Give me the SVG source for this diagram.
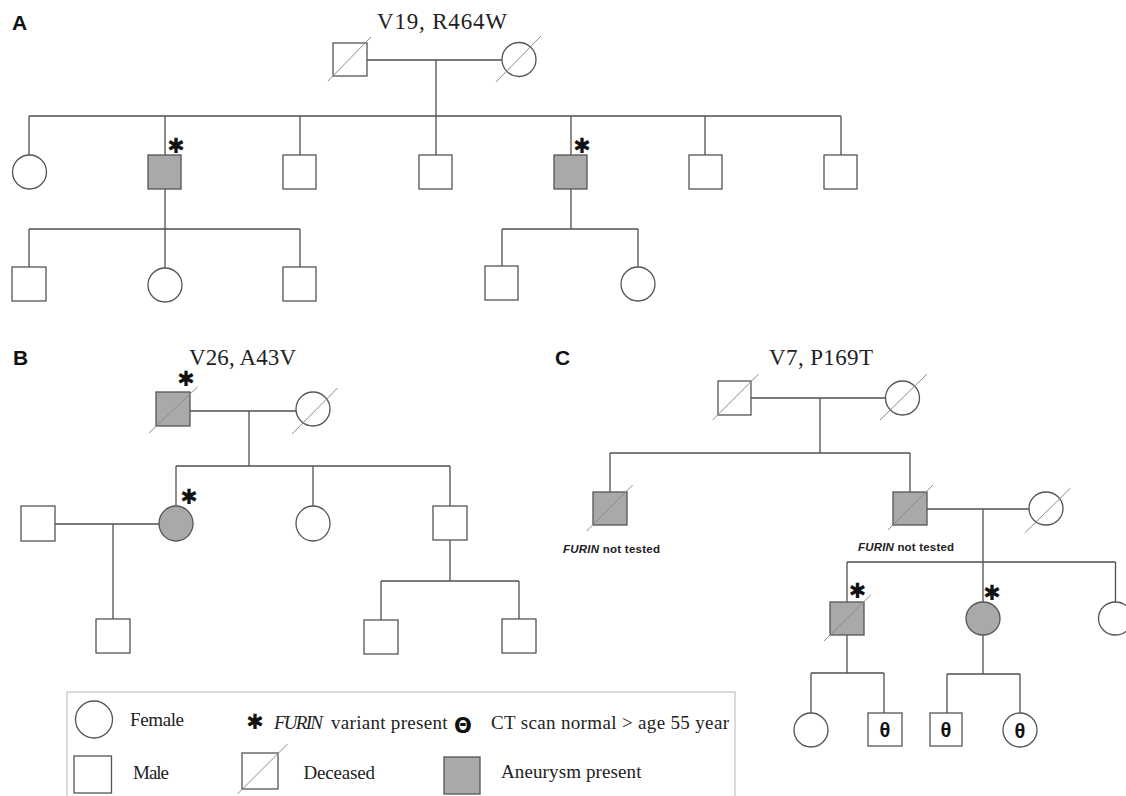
<svg xmlns="http://www.w3.org/2000/svg" width="1126" height="796" viewBox="0 0 1126 796">
<style>
.ln{stroke:#505050;stroke-width:1.3;fill:none}
.nd{fill:#fff;stroke:#555;stroke-width:1.3}
.aff{fill:#a9a9a9}
.dec{stroke:#8c8c8c;stroke-width:1}
.ser{font-family:"Liberation Serif",serif;fill:#222}
.lab{font-family:"Liberation Sans",Arial,sans-serif;font-weight:bold;font-size:21px;fill:#111}
.ast{font-family:"DejaVu Sans",sans-serif;font-weight:bold;font-size:21px;fill:#111;text-anchor:middle;dominant-baseline:central}
.th{font-family:"Liberation Sans",Arial,sans-serif;font-weight:bold;font-size:20px;fill:#111;text-anchor:middle}
.nt{font-family:"Liberation Sans",Arial,sans-serif;font-weight:bold;font-size:11.5px;fill:#222}
</style>
<rect width="1126" height="796" fill="#fff"/>
<text class="lab" x="12" y="30">A</text>
<text class="lab" x="13" y="365">B</text>
<text class="lab" x="555" y="365">C</text>
<text class="ser" x="377" y="29" font-size="23" textLength="130">V19, R464W</text>
<text class="ser" x="189" y="365" font-size="23" textLength="107">V26, A43V</text>
<text class="ser" x="769" y="365" font-size="23" textLength="104">V7, P169T</text>
<g id="connectors">
<path class="ln" d="M367,60H502M436,60V116M29,116H841M29,116V155M165,116V155M300,116V155M436,116V155M571,116V155M705,116V155M841,116V155"/>
<path class="ln" d="M165,189V229M29,229H300M29,229V267M165,229V268M300,229V267M571,189V229M502,229H638M502,229V266M638,229V267"/>
<path class="ln" d="M190,411H296M249,411V466M176,466H450M176,466V506M313,466V506M450,466V506M55,524H159M113,524V619M450,540V581M381,581H519M381,581V620M519,581V619"/>
<path class="ln" d="M751,398H886M820,398V453M610,453H910M610,453V492M910,453V492M927,509H1029M983,509V602M847,562H1115.5M847,562V602M1115.5,562V602"/>
<path class="ln" d="M847,635V673M811,673H884M811,673V713M884,673V713M983,635V674M947,674H1020M947,674V713M1020,674V713"/>
</g>
<g id="A-gf"><rect class="nd" x="333" y="43" width="34" height="33"/><line class="dec" x1="328" y1="81" x2="371" y2="37"/></g>
<g id="A-gm"><ellipse class="nd" cx="519" cy="59.5" rx="17" ry="17"/><line class="dec" x1="496" y1="82" x2="541" y2="36"/></g>
<g id="A-c1"><ellipse class="nd" cx="29.5" cy="172" rx="17" ry="17"/></g>
<g id="A-c2"><rect class="nd aff" x="148" y="155" width="33" height="34"/><text class="ast" x="176" y="146">✱</text></g>
<g id="A-c3"><rect class="nd" x="283" y="155" width="33" height="34"/></g>
<g id="A-c4"><rect class="nd" x="419" y="155" width="33" height="34"/></g>
<g id="A-c5"><rect class="nd aff" x="554" y="155" width="33" height="34"/><text class="ast" x="582" y="146">✱</text></g>
<g id="A-c6"><rect class="nd" x="689" y="155" width="33" height="34"/></g>
<g id="A-c7"><rect class="nd" x="824" y="155" width="33" height="34"/></g>
<g id="A-g1"><rect class="nd" x="12" y="267" width="34" height="34"/></g>
<g id="A-g2"><ellipse class="nd" cx="165" cy="285" rx="17" ry="17"/></g>
<g id="A-g3"><rect class="nd" x="283" y="267" width="33" height="34"/></g>
<g id="A-g4"><rect class="nd" x="485" y="266" width="33" height="34"/></g>
<g id="A-g5"><ellipse class="nd" cx="638" cy="284" rx="17" ry="17"/></g>
<g id="B-gf"><rect class="nd aff" x="156" y="392" width="34" height="34"/><line class="dec" x1="149" y1="433" x2="197.5" y2="387"/><text class="ast" x="186" y="379">✱</text></g>
<g id="B-gm"><ellipse class="nd" cx="313" cy="409" rx="17" ry="17"/><line class="dec" x1="292" y1="434" x2="337.5" y2="388"/></g>
<g id="B-c1"><ellipse class="nd aff" cx="176" cy="523.5" rx="17" ry="17.5"/><text class="ast" x="189" y="497">✱</text></g>
<g id="B-c2"><ellipse class="nd" cx="313" cy="523.5" rx="17" ry="17.5"/></g>
<g id="B-c3"><rect class="nd" x="433" y="506" width="34" height="34"/></g>
<g id="B-sp"><rect class="nd" x="21" y="506" width="34" height="35"/></g>
<g id="B-gc1"><rect class="nd" x="96" y="619" width="34" height="34"/></g>
<g id="B-gc2"><rect class="nd" x="364" y="620" width="34" height="34"/></g>
<g id="B-gc3"><rect class="nd" x="502" y="619" width="34" height="34"/></g>
<g id="C-gf"><rect class="nd" x="718" y="381" width="33" height="34"/><line class="dec" x1="712.6" y1="420" x2="758.6" y2="374"/></g>
<g id="C-gm"><ellipse class="nd" cx="902.5" cy="398" rx="17" ry="17"/><line class="dec" x1="880" y1="420" x2="927" y2="374"/></g>
<g id="C-c1"><rect class="nd aff" x="593" y="492" width="34" height="33"/><line class="dec" x1="586.7" y1="531" x2="632.7" y2="485"/><text class="nt" x="563" y="553" textLength="97"><tspan font-style="italic">FURIN</tspan> not tested</text></g>
<g id="C-c2"><rect class="nd aff" x="893" y="492" width="34" height="33"/><line class="dec" x1="888" y1="530" x2="933" y2="485"/><text class="nt" x="858" y="551" textLength="96"><tspan font-style="italic">FURIN</tspan> not tested</text></g>
<g id="C-sp"><ellipse class="nd" cx="1046" cy="508.5" rx="17" ry="16.5"/><line class="dec" x1="1024.7" y1="533" x2="1070.6" y2="488"/></g>
<g id="C-g1"><rect class="nd aff" x="830" y="602" width="34" height="33"/><line class="dec" x1="824" y1="641" x2="870.7" y2="595"/><text class="ast" x="857.5" y="591">✱</text></g>
<g id="C-g2"><ellipse class="nd aff" cx="983" cy="618.5" rx="17" ry="16.5"/><text class="ast" x="992" y="593">✱</text></g>
<g id="C-g3"><ellipse class="nd" cx="1115.5" cy="618.5" rx="17" ry="16.5"/></g>
<g id="C-gg1"><ellipse class="nd" cx="811" cy="730" rx="17" ry="17"/></g>
<g id="C-gg2"><rect class="nd" x="868" y="713" width="34" height="33"/><text class="th" x="885" y="737">θ</text></g>
<g id="C-gg3"><rect class="nd" x="930" y="713" width="32" height="33"/><text class="th" x="946" y="737">θ</text></g>
<g id="C-gg4"><ellipse class="nd" cx="1020" cy="730" rx="17" ry="17"/><text class="th" x="1020" y="738">θ</text></g>
<g id="legend">
<rect x="67" y="692" width="668" height="120" fill="none" stroke="#c4c4c4" stroke-width="1.2"/>
<ellipse class="nd" cx="94" cy="719.5" rx="18.5" ry="18.5"/>
<text class="ser" x="130" y="726" font-size="19" textLength="54">Female</text>
<rect class="nd" x="74" y="756" width="37.5" height="37"/>
<text class="ser" x="133" y="779" font-size="19" textLength="36">Male</text>
<text class="ast" x="255" y="722" font-size="26">✱</text>
<text class="ser" x="274" y="729" font-size="19" font-style="italic" textLength="49">FURIN</text>
<text class="ser" x="331" y="729" font-size="19" textLength="116.5">variant present</text>
<text x="463" y="733" font-family="DejaVu Sans, sans-serif" font-weight="bold" font-size="21" fill="#111" text-anchor="middle">Θ</text>
<text class="ser" x="491" y="729" font-size="19" textLength="238">CT scan normal &gt; age 55 year</text>
<rect class="nd" x="242" y="753" width="36" height="36"/>
<line class="dec" x1="237.5" y1="794" x2="287.5" y2="744"/>
<text class="ser" x="303.5" y="779" font-size="19" textLength="71.5">Deceased</text>
<rect class="nd aff" x="444" y="757" width="36" height="37"/>
<text class="ser" x="501" y="778" font-size="19" textLength="140.5">Aneurysm present</text>
</g>
</svg>
